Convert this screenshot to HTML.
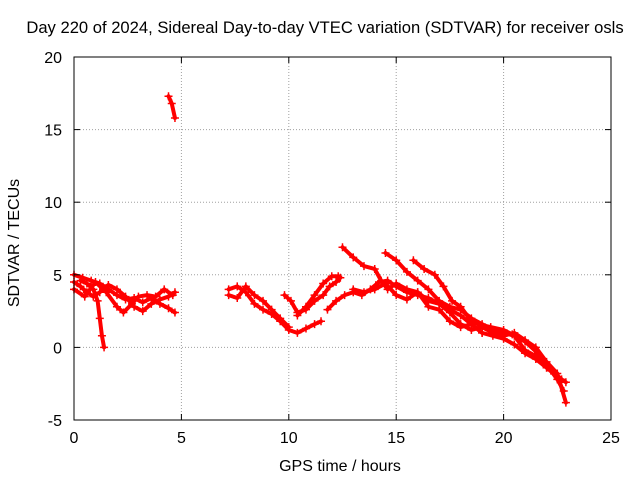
<!DOCTYPE html>
<html><head><meta charset="utf-8"><style>
body{margin:0;background:#fff;}
svg text{font-family:"Liberation Sans",sans-serif;font-size:16px;fill:#000;}
</style></head><body>
<svg id="chart" width="640" height="480" xmlns="http://www.w3.org/2000/svg">
<rect width="640" height="480" fill="#fff"/>
<text x="325" y="33" text-anchor="middle" style="font-size:16.6px">Day 220 of 2024, Sidereal Day-to-day VTEC variation (SDTVAR) for receiver osls</text>
<g id="grid"></g>
<g id="marks"></g>
<rect x="74" y="57" width="537" height="363" fill="none" stroke="#000" stroke-width="1"/>
<g id="ticks"></g>
<text x="340" y="471" text-anchor="middle">GPS time / hours</text>
<text transform="translate(19,243) rotate(-90)" text-anchor="middle">SDTVAR / TECUs</text>
</svg>
<script>
const xTicks=[0,5,10,15,20,25];
const yTicks=[-5,0,5,10,15,20];
const seriesA1=[[0,4.5],[0.3,4.2],[0.6,3.8],[0.9,3.5],[1.2,3.8],[1.6,4.3],[2,4.0],[2.4,3.5],[2.8,2.8],[3.2,2.5],[3.6,3.0],[4.0,3.3],[4.4,3.5],[4.7,3.8]];
const seriesA2=[[0,5.0],[0.4,4.8],[0.8,4.6],[1.2,4.4],[1.6,4.0],[2.0,3.6],[2.4,3.3],[2.8,3.4],[3.2,3.1],[3.6,3.4],[4.0,3.0],[4.4,2.7],[4.7,2.4]];
const seriesA3=[[0.3,4.6],[0.6,4.4],[0.9,4.0],[1.1,3.2],[1.2,2.0],[1.3,0.8],[1.4,0.0]];
const seriesA4=[[0,4.0],[0.5,3.5],[1,4.5],[1.5,3.8],[2,2.8],[2.3,2.4],[2.7,3.0],[3.0,3.5],[3.4,3.6],[3.8,3.5],[4.2,4.0],[4.6,3.6]];
const seriesA5=[[4.4,17.3],[4.55,16.8],[4.7,15.8]];
const seriesB1=[[7.2,4.0],[7.6,4.2],[8.0,3.8],[8.4,3.0],[8.8,2.6],[9.2,2.3],[9.6,1.8],[10,1.2],[10.4,1.0],[10.8,1.3],[11.2,1.6],[11.5,1.8]];
const seriesB2=[[7.2,3.6],[7.6,3.4],[8.0,4.2],[8.4,3.6],[8.8,3.2],[9.2,2.6],[9.6,2.0],[10,1.4]];
const seriesB3=[[9.8,3.6],[10.1,3.2],[10.4,2.4],[10.8,2.6],[11.2,3.2],[11.6,3.6],[11.9,4.2],[12.2,4.5],[12.4,4.8]];
const seriesB4=[[10.4,2.2],[10.8,2.8],[11.2,3.6],[11.6,4.4],[12,4.9],[12.3,4.9]];
const seriesC1=[[11.8,2.6],[12.2,3.2],[12.6,3.6],[13,3.8],[13.4,3.6],[13.8,4.0],[14.2,4.5],[14.6,4.6],[15,4.2],[15.5,3.8],[16,3.6],[16.5,3.4],[17,3.0],[17.5,2.6],[18,2.2],[18.5,1.6],[19,1.0],[19.5,0.8],[20,0.6],[20.5,0.2],[21,-0.4],[21.5,-0.8],[22,-1.4],[22.5,-2.0],[22.9,-2.4]];
const seriesC2=[[12.5,6.9],[13,6.2],[13.5,5.6],[14,5.4],[14.3,4.6],[14.6,4.0],[15,4.4],[15.5,4.0],[16,3.8],[16.5,3.2],[17,3.0],[17.5,2.4],[18,1.6],[18.5,1.2],[19,1.4],[19.5,1.0],[20,0.8],[20.5,1.0],[21,0.5],[21.5,0.0],[22,-1.0],[22.5,-1.8],[22.9,-3.8]];
const seriesC3=[[14.5,6.5],[15,6.0],[15.5,5.2],[16,4.6],[16.5,4.0],[17,3.2],[17.5,2.8],[18,2.6],[18.5,2.0],[19,1.6],[19.5,1.2],[20,1.0],[20.5,0.8],[21,-0.2],[21.5,-0.6],[22,-1.2],[22.5,-2.2],[22.8,-3.0]];
const seriesC4=[[15.8,6.0],[16.3,5.4],[16.8,5.0],[17.2,4.2],[17.6,3.2],[18,2.8],[18.4,2.0],[18.8,1.6],[19.4,1.4],[20,1.2],[20.4,0.9],[21,0.4],[21.6,-0.4],[22.2,-1.6],[22.7,-2.2]];
const seriesC5=[[13,4.0],[13.5,3.8],[14,4.0],[14.5,4.4],[15,3.6],[15.5,3.3],[16,3.8],[16.5,2.8],[17,2.6],[17.5,1.8],[18,1.4],[18.5,1.6],[19,1.0]];
const allSeries=[seriesA1,seriesA2,seriesA3,seriesA4,seriesA5,seriesB1,seriesB2,seriesB3,seriesB4,seriesC1,seriesC2,seriesC3,seriesC4,seriesC5];

const NS="http://www.w3.org/2000/svg";
const X0=74,X1=611,Y0=420,Y1=57;
function sx(v){return X0+(v-0)/(25-0)*(X1-X0);}
function sy(v){return Y0-(v+5)/(20+5)*(Y0-Y1);}
function mk(tag,attrs,parent){const e=document.createElementNS(NS,tag);for(const k in attrs)e.setAttribute(k,attrs[k]);parent.appendChild(e);return e;}
const grid=document.getElementById('grid'),ticks=document.getElementById('ticks'),marks=document.getElementById('marks');
xTicks.forEach(t=>{const x=sx(t);
 if(t>0&&t<25){const g=mk('line',{x1:x,x2:x,y1:Y1,y2:Y0,stroke:'#a0a0a0','stroke-dasharray':'1,2'},grid);}
 mk('line',{x1:x,x2:x,y1:Y0,y2:Y0-6,stroke:'#000'},ticks);mk('line',{x1:x,x2:x,y1:Y1,y2:Y1+6,stroke:'#000'},ticks);
 const l=mk('text',{x:x,y:443,'text-anchor':'middle'},ticks);l.textContent=t;
 });
yTicks.forEach(t=>{const y=sy(t);
 if(t>-5&&t<20){const g=mk('line',{x1:X0,x2:X1,y1:y,y2:y,stroke:'#a0a0a0','stroke-dasharray':'1,2'},grid);}
 mk('line',{x1:X0,x2:X0+6,y1:y,y2:y,stroke:'#000'},ticks);mk('line',{x1:X1,x2:X1-6,y1:y,y2:y,stroke:'#000'},ticks);
 const l=mk('text',{x:62,y:y+6,'text-anchor':'end'},ticks);l.textContent=t;
 });
allSeries.forEach((s,i)=>{
 const p=mk('polyline',{points:s.map(d=>sx(d[0])+','+sy(d[1])).join(' '),fill:'none',stroke:'#ff0000','stroke-width':4,'stroke-linejoin':'round','stroke-linecap':'round'},marks);
 
 
 s.forEach(d=>{const x=sx(d[0]),y=sy(d[1]);
  const m=mk('path',{d:`M${x-4},${y}H${x+4}M${x},${y-4}V${y+4}`,stroke:'#ff0000','stroke-width':1.5},marks);
  
  });
});
</script>
</body></html>
